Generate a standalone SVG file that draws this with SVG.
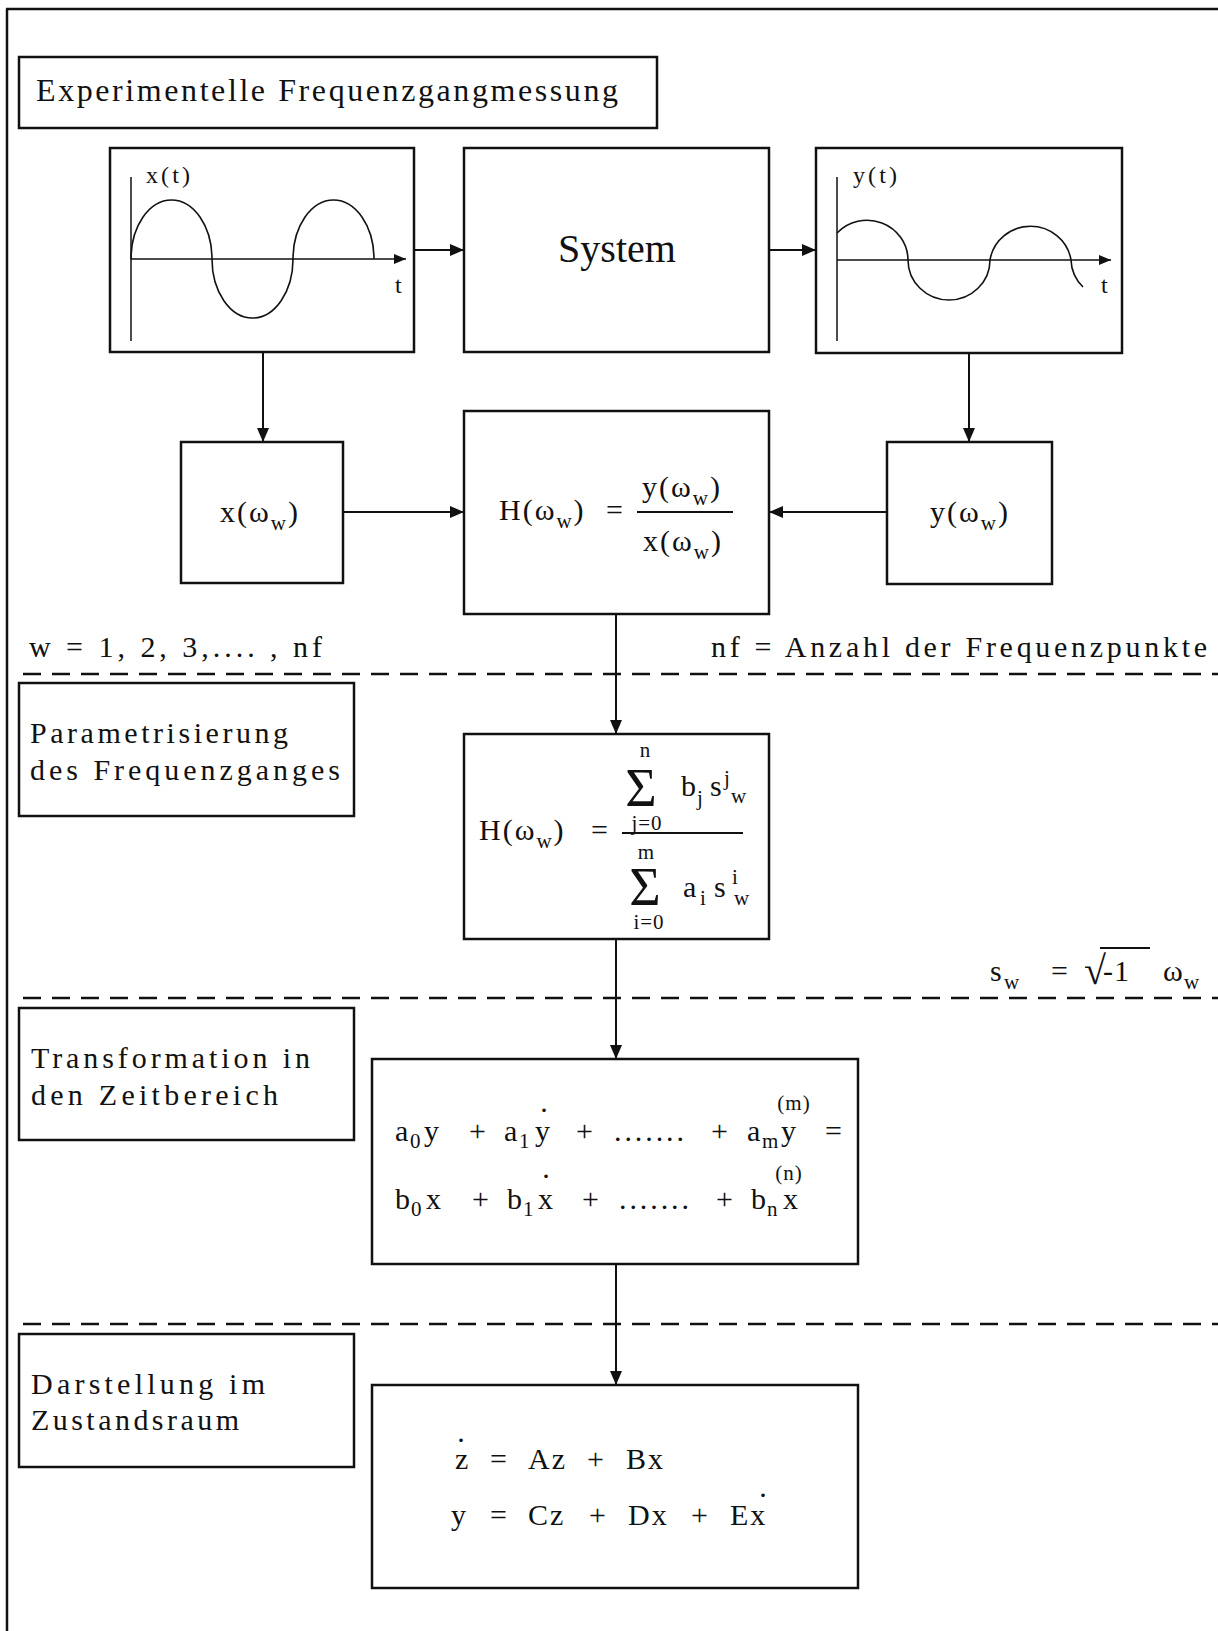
<svg xmlns="http://www.w3.org/2000/svg" width="1218" height="1631" viewBox="0 0 1218 1631">
<defs>
<style>
.box{fill:none;stroke:#111;stroke-width:2.5}
.frame{fill:none;stroke:#111;stroke-width:2.5}
.dash{fill:none;stroke:#111;stroke-width:2.5;stroke-dasharray:18 11}
.con{fill:none;stroke:#111;stroke-width:2}
.ax{fill:none;stroke:#111;stroke-width:1.5}
.crv{fill:none;stroke:#111;stroke-width:1.6}
text{font-family:"Liberation Serif","Times New Roman",serif;fill:#111}
.lab{font-size:30px}
.f{font-size:30px}
.sub{font-size:21px}
.sm{font-size:21px}
</style>
<marker id="ah" markerWidth="14" markerHeight="12" refX="14" refY="6" orient="auto" markerUnits="userSpaceOnUse"><path d="M0,0 L14,6 L0,12 z" fill="#111"/></marker>
<marker id="axh" markerWidth="12" markerHeight="10" refX="12" refY="5" orient="auto" markerUnits="userSpaceOnUse"><path d="M0,0 L12,5 L0,10 z" fill="#111"/></marker>
</defs>
<rect width="1218" height="1631" fill="#fff"/>
<g id="frame">
<path class="frame" d="M6,9 H1218 M7,9 V1631"/>
<path class="dash" d="M23,674 H1218"/>
<path class="dash" d="M23,998 H1218"/>
<path class="dash" d="M23,1324 H1218"/>
</g>
<g id="title">
<rect class="box" x="19" y="57" width="638" height="71"/>
<text x="36" y="101" font-size="32" textLength="582" lengthAdjust="spacing">Experimentelle Frequenzgangmessung</text>
</g>
<g id="xt">
<rect class="box" x="110" y="148" width="304" height="204"/>
<path class="ax" d="M131,177 V341"/>
<path class="ax" d="M131,259 H406" marker-end="url(#axh)"/>
<path class="crv" d="M131,259 A40.5,59 0 0 1 212,259 A40.5,59 0 0 0 293,259 A40.5,59 0 0 1 374,259"/>
<text x="146" y="183" font-size="24" textLength="44" lengthAdjust="spacing">x(t)</text>
<text x="395" y="293" font-size="24">t</text>
</g>
<g id="system">
<rect class="box" x="464" y="148" width="305" height="204"/>
<text x="617" y="262" font-size="40" text-anchor="middle">System</text>
</g>
<g id="yt">
<rect class="box" x="816" y="148" width="306" height="205"/>
<path class="ax" d="M837,177 V341"/>
<path class="ax" d="M837,260 H1111" marker-end="url(#axh)"/>
<path class="crv" d="M837,233 A41,40 0 0 1 908,260 A41,40 0 0 0 990,260 A41,40 0 0 1 1071,260 A41,40 0 0 0 1083,287"/>
<text x="853" y="183" font-size="24" textLength="44" lengthAdjust="spacing">y(t)</text>
<text x="1101" y="293" font-size="24">t</text>
</g>
<g id="xw">
<rect class="box" x="181" y="442" width="162" height="141"/>
<text class="f" x="220" y="522" letter-spacing="2">x(ω<tspan class="sub" dy="8">w</tspan><tspan dy="-8">)</tspan></text>
</g>
<g id="H">
<rect class="box" x="464" y="411" width="305" height="203"/>
<text class="f" x="499" y="520" letter-spacing="2">H(ω<tspan class="sub" dy="8">w</tspan><tspan dy="-8">)</tspan></text>
<text class="f" x="606" y="520">=</text>
<text class="f" x="642" y="497" letter-spacing="2">y(ω<tspan class="sub" dy="8">w</tspan><tspan dy="-8">)</tspan></text>
<path class="con" d="M637,512 H733"/>
<text class="f" x="643" y="551" letter-spacing="2">x(ω<tspan class="sub" dy="8">w</tspan><tspan dy="-8">)</tspan></text>
</g>
<g id="yw">
<rect class="box" x="887" y="442" width="165" height="142"/>
<text class="f" x="930" y="522" letter-spacing="2">y(ω<tspan class="sub" dy="8">w</tspan><tspan dy="-8">)</tspan></text>
</g>
<g id="notes">
<text class="lab" x="29" y="657" textLength="293" lengthAdjust="spacing">w = 1, 2, 3,.... , nf</text>
<text class="lab" x="711" y="657" textLength="496" lengthAdjust="spacing">nf = Anzahl der Frequenzpunkte</text>
</g>
<g id="param">
<rect class="box" x="19" y="683" width="335" height="133"/>
<text class="lab" x="30" y="743" textLength="258" lengthAdjust="spacing">Parametrisierung</text>
<text class="lab" x="30" y="780" textLength="310" lengthAdjust="spacing">des  Frequenzganges</text>
</g>
<g id="Hsum">
<rect class="box" x="464" y="734" width="305" height="205"/>
<text class="f" x="479" y="840" letter-spacing="2">H(ω<tspan class="sub" dy="8">w</tspan><tspan dy="-8">)</tspan></text>
<text class="f" x="591" y="840">=</text>
<path class="con" d="M622,833 H743"/>
<text class="sm" x="645" y="757" text-anchor="middle">n</text>
<text x="641" y="806" font-size="54" text-anchor="middle">Σ</text>
<text class="sm" x="647" y="830" text-anchor="middle" letter-spacing="1">j=0</text>
<text class="f" x="681" y="796">b</text>
<text class="sm" x="697" y="805">j</text>
<text class="f" x="710" y="796">s</text>
<text class="sm" x="724" y="785">j</text>
<text class="sub" x="731" y="803">w</text>
<text class="sm" x="646" y="859" text-anchor="middle">m</text>
<text x="645" y="905" font-size="54" text-anchor="middle">Σ</text>
<text class="sm" x="649" y="929" text-anchor="middle" letter-spacing="1">i=0</text>
<text class="f" x="683" y="897">a</text>
<text class="sm" x="700" y="905">i</text>
<text class="f" x="714" y="897">s</text>
<text class="sm" x="732" y="884">i</text>
<text class="sub" x="734" y="905">w</text>
</g>
<g id="sw">
<text class="f" x="990" y="981">s</text>
<text class="sub" x="1004" y="989">w</text>
<text class="f" x="1051" y="981">=</text>
<text x="1084" y="984" font-size="40">√</text>
<path class="con" d="M1100,948 H1150"/>
<text class="f" x="1103" y="981" letter-spacing="1">-1</text>
<text class="f" x="1163" y="981">ω</text>
<text class="sub" x="1184" y="989">w</text>
</g>
<g id="trans">
<rect class="box" x="19" y="1008" width="335" height="132"/>
<text class="lab" x="31" y="1068" textLength="279" lengthAdjust="spacing">Transformation  in</text>
<text class="lab" x="31" y="1105" textLength="247" lengthAdjust="spacing">den  Zeitbereich</text>
</g>
<g id="ode">
<rect class="box" x="372" y="1059" width="486" height="205"/>
<text class="f" x="395" y="1141">a</text><text class="sub" x="410" y="1148">0</text><text class="f" x="424" y="1141">y</text>
<text class="f" x="469" y="1141">+</text>
<text class="f" x="504" y="1141">a</text><text class="sub" x="519" y="1148">1</text><text class="f" x="535" y="1141">y</text>
<text class="f" x="544" y="1112" text-anchor="middle">.</text>
<text class="f" x="576" y="1141">+</text>
<text class="f" x="614" y="1141" textLength="70" lengthAdjust="spacing">.......</text>
<text class="f" x="711" y="1141">+</text>
<text class="f" x="747" y="1141">a</text><text class="sub" x="762" y="1148">m</text><text class="f" x="781" y="1141">y</text>
<text class="sub" x="794" y="1110" text-anchor="middle" letter-spacing="1">(m)</text>
<text class="f" x="825" y="1141">=</text>
<text class="f" x="395" y="1209">b</text><text class="sub" x="411" y="1216">0</text><text class="f" x="426" y="1209">x</text>
<text class="f" x="472" y="1209">+</text>
<text class="f" x="507" y="1209">b</text><text class="sub" x="523" y="1216">1</text><text class="f" x="538" y="1209">x</text>
<text class="f" x="546" y="1178" text-anchor="middle">.</text>
<text class="f" x="582" y="1209">+</text>
<text class="f" x="619" y="1209" textLength="70" lengthAdjust="spacing">.......</text>
<text class="f" x="716" y="1209">+</text>
<text class="f" x="751" y="1209">b</text><text class="sub" x="767" y="1216">n</text><text class="f" x="783" y="1209">x</text>
<text class="sub" x="789" y="1180" text-anchor="middle" letter-spacing="1">(n)</text>
</g>
<g id="darst">
<rect class="box" x="19" y="1334" width="335" height="133"/>
<text class="lab" x="31" y="1394" textLength="234" lengthAdjust="spacing">Darstellung  im</text>
<text class="lab" x="31" y="1430" textLength="208" lengthAdjust="spacing">Zustandsraum</text>
</g>
<g id="state">
<rect class="box" x="372" y="1385" width="486" height="203"/>
<text class="f" x="455" y="1469">z</text>
<text class="f" x="461" y="1442" text-anchor="middle">.</text>
<text class="f" x="490" y="1469">=</text>
<text class="f" x="528" y="1469" letter-spacing="2">Az</text>
<text class="f" x="587" y="1469">+</text>
<text class="f" x="626" y="1469" letter-spacing="2">Bx</text>
<text class="f" x="451" y="1525">y</text>
<text class="f" x="490" y="1525">=</text>
<text class="f" x="528" y="1525" letter-spacing="2">Cz</text>
<text class="f" x="589" y="1525">+</text>
<text class="f" x="628" y="1525" letter-spacing="2">Dx</text>
<text class="f" x="691" y="1525">+</text>
<text class="f" x="730" y="1525" letter-spacing="2">Ex</text>
<text class="f" x="763" y="1497" text-anchor="middle">.</text>
</g>
<g id="connectors">
<path class="con" d="M414,250 H464" marker-end="url(#ah)"/>
<path class="con" d="M769,250 H816" marker-end="url(#ah)"/>
<path class="con" d="M263,352 V442" marker-end="url(#ah)"/>
<path class="con" d="M969,353 V442" marker-end="url(#ah)"/>
<path class="con" d="M343,512 H464" marker-end="url(#ah)"/>
<path class="con" d="M887,512 H769" marker-end="url(#ah)"/>
<path class="con" d="M616,614 V734" marker-end="url(#ah)"/>
<path class="con" d="M616,939 V1059" marker-end="url(#ah)"/>
<path class="con" d="M616,1264 V1385" marker-end="url(#ah)"/>
</g>
</svg>
